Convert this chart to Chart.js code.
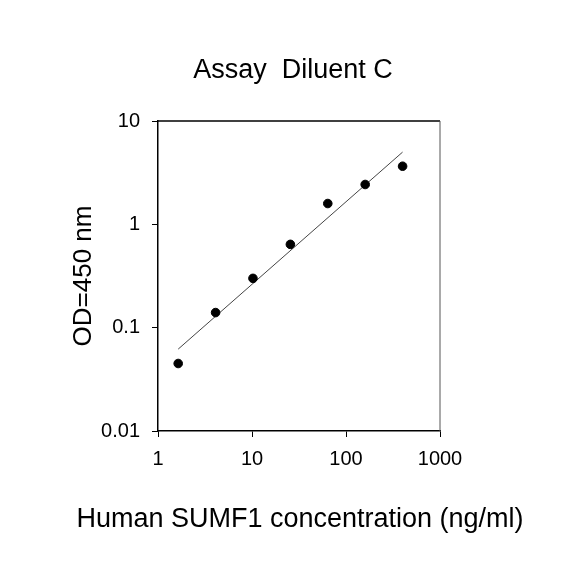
<!DOCTYPE html>
<html>
<head>
<meta charset="utf-8">
<script src="https://cdn.jsdelivr.net/npm/chart.js@4/dist/chart.umd.min.js"></script>
<style>
  html, body { margin: 0; padding: 0; background: #fff; }
  #wrap { width: 584px; height: 584px; }
</style>
</head>
<body>
<div id="wrap"><canvas id="chart" width="584" height="584"></canvas></div>
<script>
// standard curve
const concentrations = [1.64, 4.1, 10.24, 25.6, 64, 160, 400];
const odValues = [0.045, 0.14, 0.30, 0.64, 1.59, 2.43, 3.65];
// fitted power line end points
const fitX = [1.64, 400];
const fitY = [0.062, 5.0];
const xTicks = [1, 10, 100, 1000];
const yTicks = [0.01, 0.1, 1, 10];
const chartTitle = 'Assay  Diluent C';
const xTitle = 'Human SUMF1 concentration (ng/ml)';

const FONT = 'Liberation Sans, Arial, sans-serif';

// top and right sides of the plot box, plus the titles
const boxPlugin = {
    id: 'box',
    afterDraw(chart) {
        const a = chart.chartArea;
        const ctx = chart.ctx;
        ctx.save();
        ctx.strokeStyle = '#000';
        ctx.lineWidth = 1.5;
        ctx.beginPath();
        ctx.moveTo(a.left, a.top);
        ctx.lineTo(a.right, a.top);
        ctx.stroke();
        ctx.strokeStyle = '#555';
        ctx.lineWidth = 1;
        ctx.beginPath();
        ctx.moveTo(a.right, a.top);
        ctx.lineTo(a.right, a.bottom);
        ctx.stroke();

        ctx.fillStyle = '#000';
        ctx.textAlign = 'center';
        ctx.textBaseline = 'alphabetic';
        ctx.font = '27px ' + FONT;
        ctx.fillText(chartTitle, 293, 78);
        // x axis title is wider than the plot, so draw it here
        ctx.fillText(xTitle, (a.left + a.right) / 2 + 1, 527);
        ctx.restore();
    }
};

const ctx = document.getElementById('chart').getContext('2d');
new Chart(ctx, {
    type: 'scatter',
    data: {
        datasets: [
            {
                label: 'OD',
                data: concentrations.map((c, i) => ({ x: c, y: odValues[i] })),
                backgroundColor: '#000',
                borderColor: '#000',
                pointRadius: 4.3,
                pointHoverRadius: 4.3
            },
            {
                label: 'fit',
                data: fitX.map((c, i) => ({ x: c, y: fitY[i] })),
                showLine: true,
                borderColor: '#444',
                borderWidth: 1,
                pointRadius: 0
            }
        ]
    },
    options: {
        responsive: false,
        animation: false,
        layout: { padding: { left: 0, right: 144, top: 121, bottom: 0 } },
        plugins: {
            legend: { display: false },
            tooltip: { enabled: false },
            title: { display: false }
        },
        scales: {
            x: {
                type: 'logarithmic',
                min: 1,
                max: 1000,
                afterBuildTicks: s => { s.ticks = xTicks.map(v => ({ value: v })); },
                afterFit: s => { s.height = 153; },
                grid: { display: true, drawOnChartArea: false, drawTicks: true, tickLength: 6, color: '#000' },
                border: { display: true, color: '#000', width: 1.5 },
                ticks: {
                    color: '#000',
                    font: { family: FONT, size: 20 },
                    padding: 10,
                    maxRotation: 0,
                    callback: v => String(v)
                },
                title: { display: false }
            },
            y: {
                type: 'logarithmic',
                min: 0.01,
                max: 10,
                afterBuildTicks: s => { s.ticks = yTicks.map(v => ({ value: v })); },
                afterFit: s => { s.width = 158; },
                grid: { display: true, drawOnChartArea: false, drawTicks: true, tickLength: 6, color: '#000' },
                border: { display: true, color: '#000', width: 1.5 },
                ticks: {
                    color: '#000',
                    font: { family: FONT, size: 20 },
                    padding: 12,
                    callback: v => String(v)
                },
                title: {
                    display: true,
                    text: 'OD=450 nm',
                    color: '#000',
                    font: { family: FONT, size: 26 },
                    padding: { top: 68, bottom: 68 }
                }
            }
        }
    },
    plugins: [boxPlugin]
});
</script>
</body>
</html>
